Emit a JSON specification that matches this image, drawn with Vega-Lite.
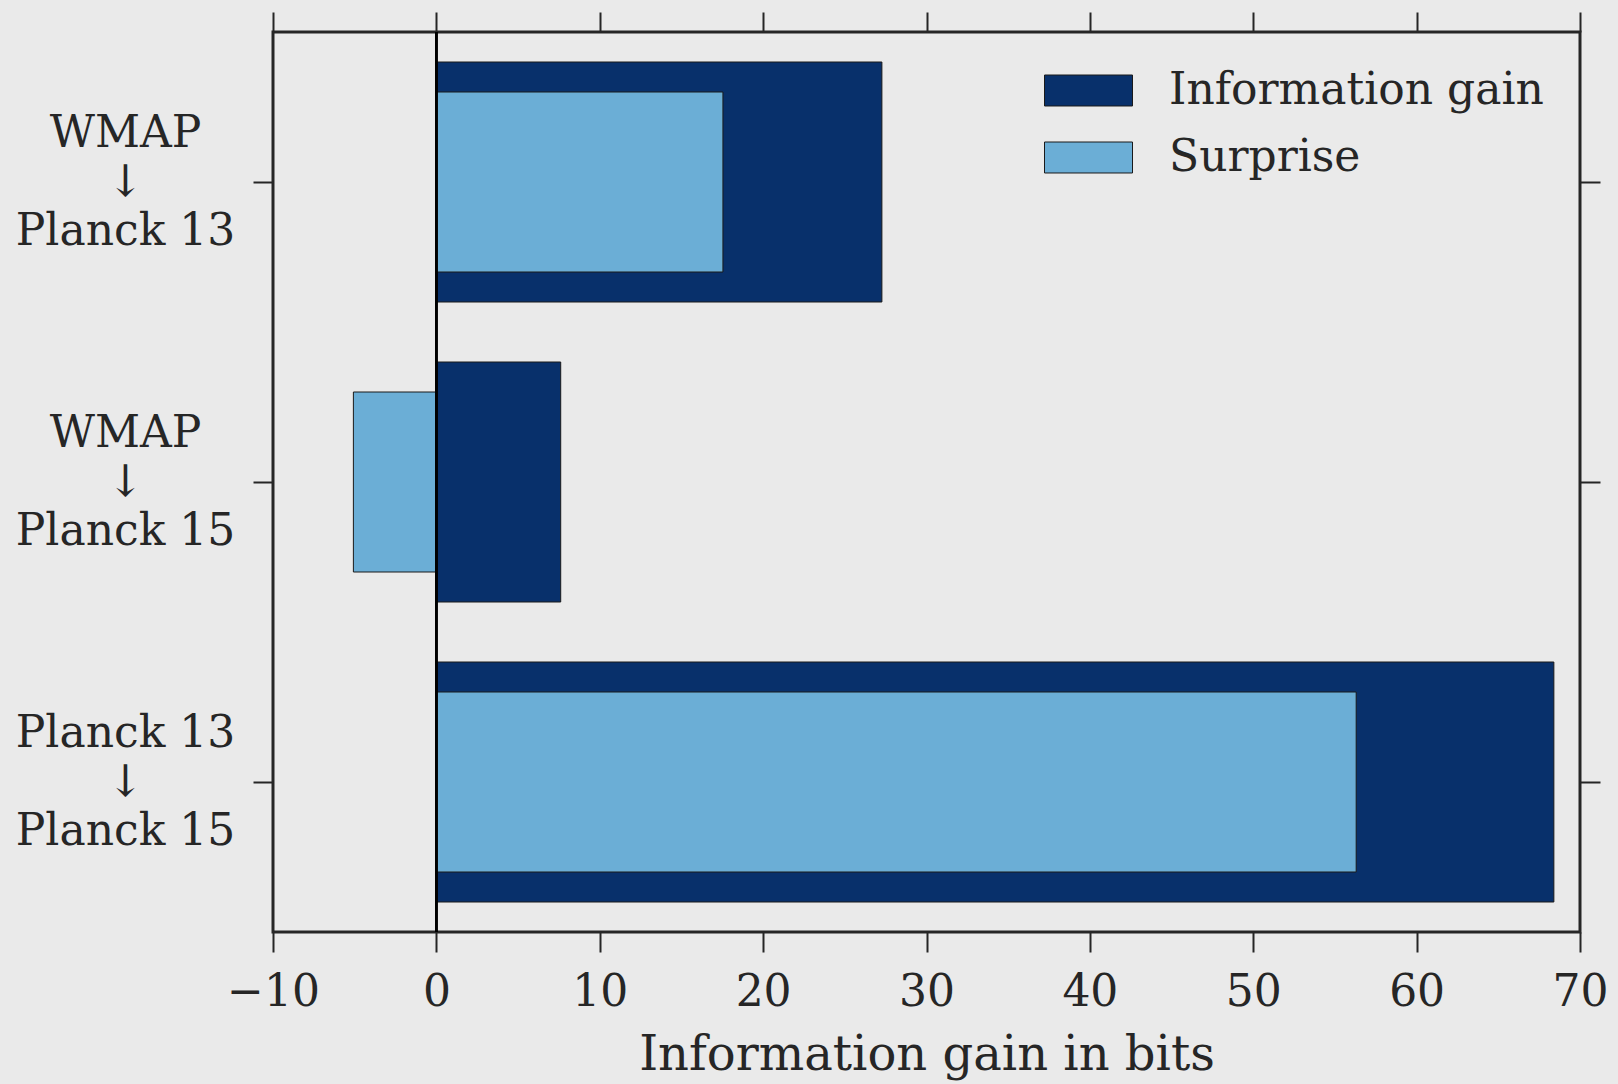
{
  "$schema": "https://vega.github.io/schema/vega-lite/v6.json",
  "width": 1307,
  "height": 900,
  "autosize": "none",
  "padding": {"left": 273, "top": 32, "right": 38, "bottom": 152},
  "background": "#eaeaea",
  "config": {
    "view": {"stroke": "#262626", "strokeWidth": 3, "fill": "#eaeaea"},
    "font": "DejaVu Serif",
    "axis": {
      "grid": false,
      "domain": false,
      "tickColor": "#262626",
      "tickWidth": 2,
      "tickSize": 20,
      "labelColor": "#262626",
      "labelFont": "DejaVu Serif",
      "labelFontSize": 44,
      "labelLimit": 0,
      "titleColor": "#262626",
      "titleFont": "DejaVu Serif",
      "titleFontSize": 48,
      "titleFontWeight": "normal"
    }
  },
  "data": {
    "values": [
      {"pair": "WMAP|↓|Planck 13", "measure": "Information gain", "bits": 27.27},
      {"pair": "WMAP|↓|Planck 13", "measure": "Surprise", "bits": 17.54},
      {"pair": "WMAP|↓|Planck 15", "measure": "Information gain", "bits": 7.61},
      {"pair": "WMAP|↓|Planck 15", "measure": "Surprise", "bits": -5.08},
      {"pair": "Planck 13|↓|Planck 15", "measure": "Information gain", "bits": 68.4},
      {"pair": "Planck 13|↓|Planck 15", "measure": "Surprise", "bits": 56.3}
    ]
  },
  "layer": [
    {
      "transform": [{"filter": "datum.measure === 'Information gain'"}],
      "mark": {"type": "bar", "height": {"band": 0.8}, "stroke": "#1a1a1a", "strokeWidth": 1},
      "encoding": {
        "y": {
          "field": "pair",
          "type": "nominal",
          "sort": ["WMAP|↓|Planck 13", "WMAP|↓|Planck 15", "Planck 13|↓|Planck 15"],
          "scale": {"paddingInner": 0, "paddingOuter": 0},
          "axis": {
            "orient": "left",
            "title": null,
            "labelExpr": "split(datum.label, '|')",
            "labelAlign": "center",
            "labelBaseline": "middle",
            "labelLineHeight": 49,
            "labelPadding": 128,
            "labelOffset": -48
          }
        },
        "x": {
          "field": "bits",
          "type": "quantitative",
          "scale": {"domain": [-10, 70], "nice": false, "zero": false},
          "axis": {
            "orient": "bottom",
            "values": [-10, 0, 10, 20, 30, 40, 50, 60, 70],
            "title": "Information gain in bits",
            "labelFlush": false,
            "labelPadding": 18,
            "titlePadding": 17
          }
        },
        "color": {
          "field": "measure",
          "type": "nominal",
          "scale": {"domain": ["Information gain", "Surprise"], "range": ["#08306b", "#6baed6"]},
          "legend": {
            "title": null,
            "orient": "none",
            "legendX": 771,
            "legendY": 14,
            "symbolType": "M-1,-0.352H1V0.352H-1Z",
            "symbolSize": 7744,
            "symbolStrokeColor": "#262626",
            "symbolStrokeWidth": 1,
            "symbolOpacity": 1,
            "labelFont": "DejaVu Serif",
            "labelFontSize": 44,
            "labelColor": "#262626",
            "labelLimit": 0,
            "labelOffset": 36,
            "rowPadding": -3,
            "padding": 0
          }
        }
      }
    },
    {
      "transform": [{"filter": "datum.measure === 'Surprise'"}],
      "mark": {"type": "bar", "height": {"band": 0.6}, "stroke": "#1a1a1a", "strokeWidth": 1},
      "encoding": {
        "y": {
          "field": "pair",
          "type": "nominal",
          "sort": ["WMAP|↓|Planck 13", "WMAP|↓|Planck 15", "Planck 13|↓|Planck 15"],
          "axis": {"orient": "right", "labels": false, "title": null}
        },
        "x": {
          "field": "bits",
          "type": "quantitative",
          "axis": {
            "orient": "top",
            "values": [-10, 0, 10, 20, 30, 40, 50, 60, 70],
            "labels": false,
            "title": null
          }
        },
        "color": {"field": "measure", "type": "nominal"}
      }
    },
    {
      "mark": {"type": "rule", "color": "#000000", "strokeWidth": 2},
      "encoding": {
        "x": {"datum": 0, "type": "quantitative", "axis": null}
      }
    }
  ]
}
